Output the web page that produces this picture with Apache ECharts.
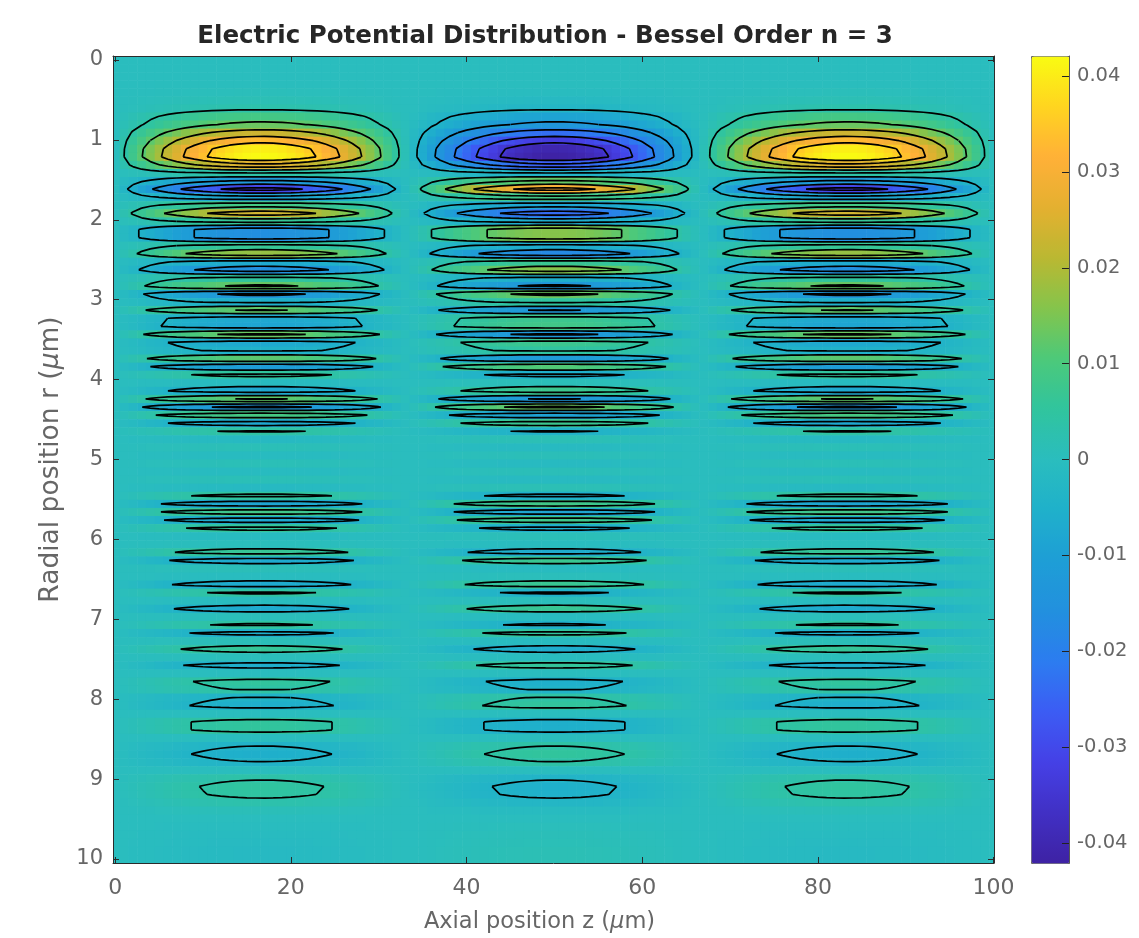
<!DOCTYPE html>
<html><head><meta charset="utf-8">
<style>html,body{margin:0;padding:0;background:#fff}#c{width:1139px;height:938px;filter:blur(0.55px)}</style>
<script src="https://cdn.jsdelivr.net/npm/echarts@6/dist/echarts.min.js"></script>
</head><body><div id="c"></div>
<script>
// Radial amplitude read row by row (100 rows, r = 0 .. 10)
var rowAmplitude = [
 0,0,0,0.0002,0.0006,0.0015,0.003,0.009,0.0135,0.0235,
 0.033,0.0405,0.042,0.026,0.004,-0.013,-0.031,-0.009,0.009,0.024,
 0.0065,-0.016,-0.016,0.0065,0.0175,-0.007,-0.016,0.0055,0.013,-0.0135,
 -0.005,0.0125,-0.0075,-0.0085,0.0135,-0.0075,-0.005,0.012,-0.011,0.0055,
 -0.001,-0.0075,0.0125,-0.014,0.0095,-0.0075,0.0045,-0.0015,0.0012,-0.001,
 0.0012,-0.001,0.0012,-0.0015,0.0055,-0.0085,0.0085,-0.008,0.0058,-0.001,
 0.0005,0.0067,-0.0073,0.001,-0.0005,-0.007,0.0048,-0.0005,-0.0068,0.0005,
 0.0047,-0.0056,0.001,0.0062,0.0005,-0.006,0,0.0054,0.0042,-0.0042,
 -0.0056,0,0.0055,0.0055,0,-0.004,-0.0055,-0.0039,0,0.0037,
 0.0051,0.0048,0.003,0.001,0,-0.0005,-0.001,-0.0012,-0.0015,-0.0015
];
// Axial shape read across the three lobes (z = 0 .. 100 in steps of 1)
var axialProfile = [
 0,.094,.187,.279,.368,.454,.536,.613,.685,.75,.809,.861,.905,.941,.969,.988,.998,1,.992,.976,
 .951,.918,.876,.827,.771,.707,.637,.562,.482,.397,.309,.218,.125,.031,-.063,-.156,-.249,-.339,-.426,-.509,
 -.588,-.661,-.729,-.79,-.844,-.891,-.93,-.96,-.982,-.996,-1,-.996,-.982,-.96,-.93,-.891,-.844,-.79,-.729,-.661,
 -.588,-.509,-.426,-.339,-.249,-.156,-.063,.031,.125,.218,.309,.397,.482,.562,.637,.707,.771,.827,.876,.918,
 .951,.976,.992,1,.998,.988,.969,.941,.905,.861,.809,.75,.685,.613,.536,.454,.368,.279,.187,.094,0
];
var contourLevels = [-0.035,-0.028,-0.02,-0.012,-0.004,0.004,0.012,0.02,0.028,0.035];
var xTicks = [0,20,40,60,80,100];
var yTicks = [0,1,2,3,4,5,6,7,8,9,10];
var colorbarTicks = [-0.04,-0.03,-0.02,-0.01,0,0.01,0.02,0.03,0.04];
var colorbarLabels = ['-0.04','-0.03','-0.02','-0.01','0','0.01','0.02','0.03','0.04'];
var colormap = ['#3E22A4','#4130C4','#4540E6','#3C5CF4','#2C7CF0','#2290DE','#1E9ED6','#1FB0CB','#2ABDBE',
                '#30C49E','#4CC97A','#84C54C','#BAB832','#E4B030','#FFB038','#FFD420','#F9FB12'];
var titleText = 'Electric Potential Distribution - Bessel Order n = 3';

var rStep = 10/99, zStep = 1;
var rGrid = rowAmplitude.map(function(_,i){return i*rStep;});
var zGrid = axialProfile.map(function(_,j){return j*zStep;});
function val(i,j){return rowAmplitude[i]*axialProfile[j];}

var cells = [];
rGrid.forEach(function(r,i){zGrid.forEach(function(z,j){cells.push([z,r,val(i,j)]);});});

function contourSegments(L){
  var out = [];
  function cross(a,b,pa,pb){var t=(L-a)/(b-a);return [pa[0]+t*(pb[0]-pa[0]),pa[1]+t*(pb[1]-pa[1])];}
  for(var i=0;i<rGrid.length-1;i++){for(var j=0;j<zGrid.length-1;j++){
    var p=[[zGrid[j],rGrid[i]],[zGrid[j+1],rGrid[i]],[zGrid[j+1],rGrid[i+1]],[zGrid[j],rGrid[i+1]]];
    var v=[val(i,j),val(i,j+1),val(i+1,j+1),val(i+1,j)];
    var pts=[];
    for(var e=0;e<4;e++){var a=v[e],b=v[(e+1)%4];
      if((a<L)!==(b<L)) pts.push(cross(a,b,p[e],p[(e+1)%4]));}
    if(pts.length===2){out.push(pts[0],pts[1],[NaN,NaN]);}
    else if(pts.length===4){out.push(pts[0],pts[1],[NaN,NaN],pts[2],pts[3],[NaN,NaN]);}
  }}
  return out;
}

var ink='#666', axisCol='#2b2b2b', family='DejaVu Sans';
var tickStyle={show:true,inside:true,length:6,lineStyle:{color:axisCol,width:1}};
function nameRich(fs){return {a:{fontFamily:family,fontSize:fs,color:ink},i:{fontFamily:family,fontSize:fs,color:ink,fontStyle:'italic'}};}

var series=[{
  type:'custom',xAxisIndex:0,yAxisIndex:0,data:cells,clip:true,silent:true,animation:false,progressive:0,
  encode:{x:0,y:1},
  renderItem:function(params,api){
    var z=api.value(0),r=api.value(1);
    var a=api.coord([z-zStep/2,r-rStep/2]),b=api.coord([z+zStep/2,r+rStep/2]);
    return {type:'rect',shape:{x:a[0],y:a[1],width:b[0]-a[0]+0.6,height:b[1]-a[1]+0.6},style:{fill:api.visual('color')}};
  }
}];
contourLevels.forEach(function(L){
  series.push({type:'line',xAxisIndex:0,yAxisIndex:0,data:contourSegments(L),showSymbol:false,symbol:'none',
    connectNulls:false,animation:false,silent:true,clip:true,z:5,lineStyle:{color:'#000',width:1.7}});
});

var chart=echarts.init(document.getElementById('c'),null,{renderer:'canvas'});
chart.setOption({
  animation:false,backgroundColor:'#fff',
  title:{text:titleText,left:540,top:19,textAlign:'center',textStyle:{fontFamily:family,fontSize:24.5,fontWeight:'bold',color:'#262626'}},
  grid:[{left:113,right:145,top:56,bottom:75,show:false,outerBoundsMode:'none'},{left:1031,right:70,top:56,bottom:75,show:false,outerBoundsMode:'none'}],
  xAxis:[
   {gridIndex:0,type:'value',position:'bottom',min:-0.25,max:100.05,splitLine:{show:false},z:10,
    axisLine:{show:true,onZero:false,lineStyle:{color:axisCol}},
    axisTick:Object.assign({customValues:xTicks},tickStyle),
    axisLabel:{customValues:xTicks,fontFamily:family,fontSize:22,color:ink,margin:14,hideOverlap:false,formatter:function(v){return String(v);}},
    name:'{a|Axial position z (}{i|\u00B5}{a|m)}',nameLocation:'middle',nameGap:48,
    nameTextStyle:{padding:[0,28,0,0],rich:nameRich(22.5)}},
   {gridIndex:0,type:'value',position:'top',min:-0.25,max:100.05,splitLine:{show:false},z:10,
    axisLine:{show:true,onZero:false,lineStyle:{color:axisCol}},
    axisTick:Object.assign({customValues:xTicks},tickStyle),axisLabel:{show:false}},
   {gridIndex:1,type:'value',min:0,max:1,show:false}
  ],
  yAxis:[
   {gridIndex:0,type:'value',position:'left',inverse:true,min:-0.05,max:10.05,splitLine:{show:false},z:10,
    axisLine:{show:true,onZero:false,lineStyle:{color:axisCol}},
    axisTick:Object.assign({customValues:yTicks},tickStyle),
    axisLabel:{customValues:yTicks,fontFamily:family,fontSize:21,color:ink,margin:10,formatter:function(v){return String(v);}},
    name:'{a|Radial position r (}{i|\u00B5}{a|m)}',nameLocation:'middle',nameGap:48,nameRotate:90,nameTextStyle:{rich:nameRich(26.5)}},
   {gridIndex:0,type:'value',position:'right',inverse:true,min:-0.05,max:10.05,splitLine:{show:false},z:10,
    axisLine:{show:true,onZero:false,lineStyle:{color:axisCol}},
    axisTick:Object.assign({customValues:yTicks},tickStyle),axisLabel:{show:false}},
   {gridIndex:1,type:'value',position:'right',min:-0.0421,max:0.0421,splitLine:{show:false},z:10,
    axisLine:{show:true,onZero:false,lineStyle:{color:'#555'}},
    axisTick:Object.assign({customValues:colorbarTicks},{show:true,inside:true,length:7,lineStyle:{color:'#222'}}),
    axisLabel:{customValues:colorbarTicks,fontFamily:family,fontSize:19.5,color:ink,margin:8,
      formatter:function(v){var i=colorbarTicks.findIndex(function(t){return Math.abs(t-v)<1e-6;});return i<0?'':colorbarLabels[i];}}}
  ],
  visualMap:{type:'continuous',show:true,seriesIndex:0,dimension:2,min:-0.0421,max:0.0421,calculable:false,realtime:false,hoverLink:false,
    left:1031,top:56,itemWidth:38,itemHeight:807,padding:0,text:null,borderColor:'#666',borderWidth:1,inRange:{color:colormap}},
  series:series
});
</script></body></html>
